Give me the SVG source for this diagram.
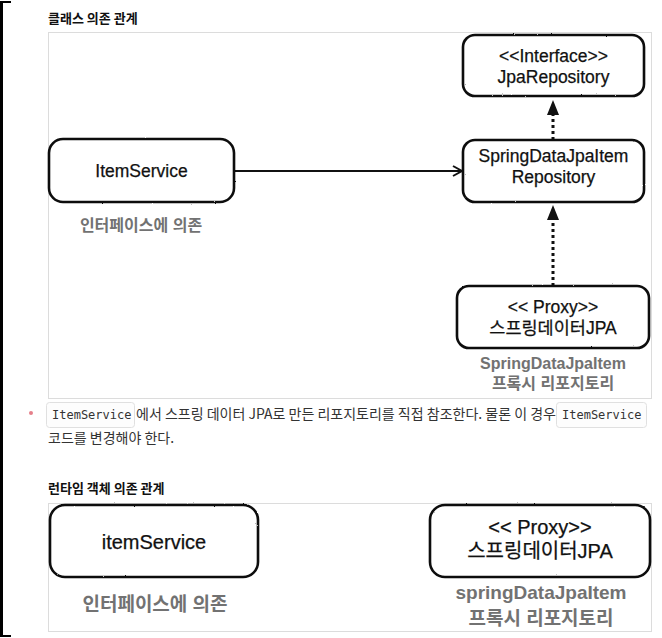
<svg xmlns="http://www.w3.org/2000/svg" width="662" height="638" viewBox="0 0 662 638">
<style>
.panel{fill:#fff;stroke:#dcdcdc;stroke-width:1}
.box{fill:#fff;stroke:#111;stroke-width:2.6}
.t{font-family:"Liberation Sans","Noto Sans CJK KR",sans-serif;fill:#111;stroke:#111;stroke-width:0.25;text-anchor:middle}
.g{font-family:"Liberation Sans","Noto Sans CJK KR",sans-serif;font-weight:bold;fill:#727272;text-anchor:middle}
.title{font-family:"Noto Sans CJK KR",sans-serif;font-weight:bold;font-size:13px;fill:#111}
.body{font-family:"Noto Sans CJK KR",sans-serif;font-size:14px;fill:#333}
.chip{fill:#fdfdfd;stroke:#e0e0e0;stroke-width:1}
.code{font-family:"DejaVu Sans Mono","Liberation Mono",monospace;font-size:12px;fill:#333}
.line{fill:none;stroke:#111;stroke-width:2}
.dot{fill:none;stroke:#111;stroke-width:3;stroke-dasharray:3 3}
.head{fill:#111}
</style>
<defs>
<filter id="rough" x="-5%" y="-5%" width="110%" height="110%">
<feTurbulence type="fractalNoise" baseFrequency="0.9" numOctaves="2" seed="3" result="n"/>
<feDisplacementMap in="SourceGraphic" in2="n" scale="1.6" xChannelSelector="R" yChannelSelector="G"/>
</filter>
</defs>
<rect width="662" height="638" fill="#fff"/>
<g id="bracket" fill="#000">
<rect x="0" y="1" width="3" height="636"/>
<rect x="0" y="1" width="11" height="2"/>
<rect x="0" y="635" width="11" height="2"/>
</g>
<text class="title" x="48" y="23">클래스 의존 관계</text>
<rect class="panel" x="48.5" y="32.5" width="603" height="366"/>
<g id="connectors">
<line class="line" x1="234" y1="171" x2="461" y2="171"/>
<polyline class="line" points="453,166 462,171 453,176"/>
<line class="dot" x1="553" y1="140" x2="553" y2="114"/>
<polygon class="head" points="553,100 547,115 559,115"/>
<line class="dot" x1="553" y1="286" x2="553" y2="219"/>
<polygon class="head" points="553,205 547,220 559,220"/>
<line class="line" x1="258" y1="541" x2="426" y2="541"/>
<polyline class="line" points="418,536 427,541 418,546"/>
</g>
<g id="itemService">
<rect class="box" filter="url(#rough)" x="49" y="139" width="185" height="63" rx="14"/>
<text class="t" x="141.5" y="177" font-size="17.5">ItemService</text>
<text class="g" x="141" y="231" font-size="16">인터페이스에 의존</text>
</g>
<g id="jpaRepository">
<rect class="box" filter="url(#rough)" x="463" y="35" width="181" height="61" rx="12"/>
<text class="t" x="553.5" y="62" font-size="17.5">&lt;&lt;Interface&gt;&gt;</text>
<text class="t" x="553.5" y="83" font-size="17.5">JpaRepository</text>
</g>
<g id="springDataJpaItemRepository">
<rect class="box" filter="url(#rough)" x="463" y="140" width="181" height="62" rx="12"/>
<text class="t" x="553.5" y="162" font-size="17.5">SpringDataJpaItem</text>
<text class="t" x="553.5" y="183" font-size="17.5">Repository</text>
</g>
<g id="proxy">
<rect class="box" filter="url(#rough)" x="457" y="286" width="192" height="62" rx="12"/>
<text class="t" x="553" y="313" font-size="17.5">&lt;&lt; Proxy&gt;&gt;</text>
<text class="t" x="553" y="334" font-size="17.5">스프링데이터JPA</text>
<text class="g" x="553" y="369" font-size="16">SpringDataJpaItem</text>
<text class="g" x="553" y="389" font-size="16">프록시 리포지토리</text>
</g>
<g id="note">
<circle cx="31" cy="413" r="2" fill="#e57f8a"/>
<rect class="chip" x="46.5" y="402.5" width="88" height="25" rx="3"/>
<text class="code" x="52" y="419">ItemService</text>
<text class="body" x="136" y="419">에서 스프링 데이터 JPA로 만든 리포지토리를 직접 참조한다. 물론 이 경우</text>
<rect class="chip" x="556.5" y="402.5" width="90" height="25" rx="3"/>
<text class="code" x="562" y="419">ItemService</text>
<text class="body" x="48" y="443">코드를 변경해야 한다.</text>
</g>
<text class="title" x="48" y="493">런타임 객체 의존 관계</text>
<rect class="panel" x="48.5" y="503.5" width="603" height="128"/>
<g id="itemServiceRuntime">
<rect class="box" filter="url(#rough)" x="50" y="505" width="208" height="72" rx="15"/>
<text class="t" x="154" y="549" font-size="20">itemService</text>
<text class="g" x="155" y="611" font-size="19">인터페이스에 의존</text>
</g>
<g id="proxyRuntime">
<rect class="box" filter="url(#rough)" x="430" y="505" width="220" height="72" rx="15"/>
<text class="t" x="540" y="534" font-size="20">&lt;&lt; Proxy&gt;&gt;</text>
<text class="t" x="540" y="558" font-size="20">스프링데이터JPA</text>
<text class="g" x="541" y="599" font-size="19">springDataJpaItem</text>
<text class="g" x="541" y="625" font-size="19">프록시 리포지토리</text>
</g>
</svg>
